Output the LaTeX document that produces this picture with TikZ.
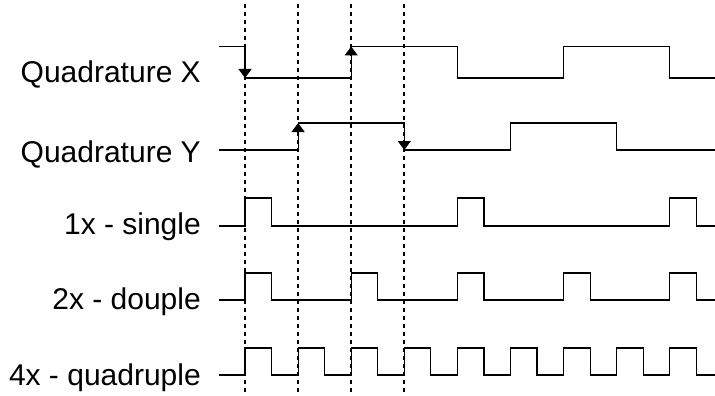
\documentclass[tikz,border=0pt]{standalone}
\usepackage{fontspec}
\setmainfont{Liberation Sans}
\usetikzlibrary{arrows.meta}
\begin{document}
\begin{tikzpicture}[x=1pt,y=-1pt,
  sig/.style={line width=1.2pt, black},
  guide/.style={line width=2.2pt, black, dash pattern=on 4pt off 4pt},
  edgearrow/.style={sig, -{Triangle[width=13pt,length=9pt]}},
  lbl/.style={anchor=base east, font=\fontsize{30}{36}\selectfont, inner sep=0pt}]
\useasboundingbox (0,0) rectangle (715,396);
% labels
\node[lbl] (lx) at (201,83) {Quadrature X};
\node[lbl] (ly) at (201,162) {Quadrature Y};
\node[lbl] (l1) at (201,234) {1x - single};
\node[lbl] (l2) at (201,309) {2x - douple};
\node[lbl] (l4) at (201,385) {4x - quadruple};
% guides
\foreach \e in {245,298.1,351.2,404.3} {
  \draw[guide] (\e,4) -- (\e,396);
}
% Quadrature X
\draw[sig] (219,46.5) -- (245,46.5) -- (245,78) -- (351.2,78) -- (351.2,46.5) -- (457.4,46.5) -- (457.4,78) -- (563.6,78) -- (563.6,46.5) -- (669.8,46.5) -- (669.8,78) -- (715,78);
\draw[edgearrow] (245,46.5) -- (245,78);
\draw[edgearrow] (351.2,78) -- (351.2,46.5);
% Quadrature Y
\draw[sig] (219,150) -- (298.1,150) -- (298.1,123) -- (404.3,123) -- (404.3,150) -- (510.5,150) -- (510.5,123) -- (616.7,123) -- (616.7,150) -- (715,150);
\draw[edgearrow] (298.1,150) -- (298.1,123);
\draw[edgearrow] (404.3,123) -- (404.3,150);
% 1x
\draw[sig] (219,226) foreach \e in {245,457.4,669.8} { -- (\e,226) -- (\e,198) -- (\e+26.5,198) -- (\e+26.5,226) } -- (715,226);
% 2x
\draw[sig] (219,300) foreach \e in {245,351.2,457.4,563.6,669.8} { -- (\e,300) -- (\e,273) -- (\e+26.5,273) -- (\e+26.5,300) } -- (715,300);
% 4x
\draw[sig] (219,375) foreach \e in {245,298.1,351.2,404.3,457.4,510.5,563.6,616.7,669.8} { -- (\e,375) -- (\e,348) -- (\e+26.5,348) -- (\e+26.5,375) } -- (715,375);
\end{tikzpicture}
\end{document}
